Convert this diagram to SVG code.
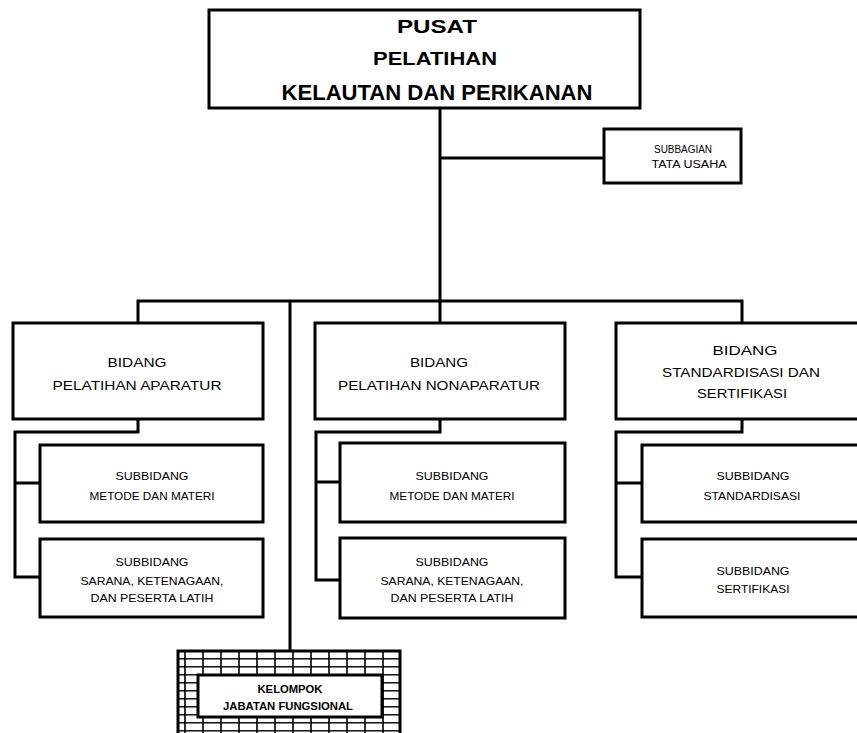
<svg xmlns="http://www.w3.org/2000/svg" width="857" height="733" viewBox="0 0 857 733">
<style>
.box{fill:#fff;stroke:#000;stroke-width:3}
.ln{fill:none;stroke:#000;stroke-width:3}
text{font-family:"Liberation Sans",Arial,sans-serif;fill:#000;text-anchor:middle}
.t1{font-size:19px;font-weight:bold}
.t2{font-size:13.5px}
.t3{font-size:11.5px}
.t4{font-size:10px}
.t5{font-size:10px;font-weight:bold}
</style>
<defs>
<pattern id="grid" x="184" y="650" width="18" height="8" patternUnits="userSpaceOnUse">
<rect width="18" height="8" fill="#fff"/>
<line x1="1" y1="0" x2="1" y2="8" stroke="#000" stroke-width="1.6"/>
<line x1="0" y1="0.8" x2="18" y2="0.8" stroke="#000" stroke-width="1.4"/>
</pattern>
</defs>
<rect width="857" height="733" fill="#fff"/>
<g id="connectors">
<path class="ln" d="M440 108V323"/>
<path class="ln" d="M440 158H604"/>
<path class="ln" d="M138 323V301H742V323"/>
<path class="ln" d="M290 301V650"/>
<path class="ln" d="M138 419V432H15V577H40M15 483H40"/>
<path class="ln" d="M440 419V432H316V580H340M316 482H340"/>
<path class="ln" d="M742 419V432H616V577H642M616 483H642"/>
</g>
<g id="pusat">
<rect class="box" x="209" y="10" width="431" height="98"/>
<text class="t1" x="437" y="33" textLength="80" lengthAdjust="spacingAndGlyphs">PUSAT</text>
<text class="t1" x="435" y="65" textLength="124" lengthAdjust="spacingAndGlyphs">PELATIHAN</text>
<text class="t1" x="437" y="100" style="font-size:22px" textLength="311" lengthAdjust="spacingAndGlyphs">KELAUTAN DAN PERIKANAN</text>
</g>
<g id="subbagian">
<rect class="box" x="604" y="129" width="137" height="54"/>
<text class="t4" x="683" y="153" textLength="58" lengthAdjust="spacingAndGlyphs">SUBBAGIAN</text>
<text class="t4" x="689" y="168" textLength="75" lengthAdjust="spacingAndGlyphs">TATA USAHA</text>
</g>
<g id="bidang-aparatur">
<rect class="box" x="13" y="323" width="250" height="96"/>
<text class="t2" x="137" y="367" textLength="59" lengthAdjust="spacingAndGlyphs">BIDANG</text>
<text class="t2" x="137" y="390" textLength="169" lengthAdjust="spacingAndGlyphs">PELATIHAN APARATUR</text>
</g>
<g id="bidang-nonaparatur">
<rect class="box" x="315" y="323" width="250" height="96"/>
<text class="t2" x="439" y="367" textLength="58" lengthAdjust="spacingAndGlyphs">BIDANG</text>
<text class="t2" x="439" y="390" textLength="202" lengthAdjust="spacingAndGlyphs">PELATIHAN NONAPARATUR</text>
</g>
<g id="bidang-standardisasi">
<rect class="box" x="616" y="323" width="250" height="96"/>
<text class="t2" x="745" y="355" textLength="65" lengthAdjust="spacingAndGlyphs">BIDANG</text>
<text class="t2" x="741" y="377" textLength="158" lengthAdjust="spacingAndGlyphs">STANDARDISASI DAN</text>
<text class="t2" x="742" y="398" textLength="90" lengthAdjust="spacingAndGlyphs">SERTIFIKASI</text>
</g>
<g id="sub-metode-1">
<rect class="box" x="40" y="445" width="223" height="77"/>
<text class="t3" x="152" y="480" textLength="73" lengthAdjust="spacingAndGlyphs">SUBBIDANG</text>
<text class="t3" x="152" y="500" textLength="125" lengthAdjust="spacingAndGlyphs">METODE DAN MATERI</text>
</g>
<g id="sub-sarana-1">
<rect class="box" x="40" y="539" width="223" height="78"/>
<text class="t3" x="152" y="566" textLength="73" lengthAdjust="spacingAndGlyphs">SUBBIDANG</text>
<text class="t3" x="152" y="585" textLength="143" lengthAdjust="spacingAndGlyphs">SARANA, KETENAGAAN,</text>
<text class="t3" x="152" y="602" textLength="123" lengthAdjust="spacingAndGlyphs">DAN PESERTA LATIH</text>
</g>
<g id="sub-metode-2">
<rect class="box" x="340" y="443" width="225" height="79"/>
<text class="t3" x="452" y="480" textLength="73" lengthAdjust="spacingAndGlyphs">SUBBIDANG</text>
<text class="t3" x="452" y="500" textLength="125" lengthAdjust="spacingAndGlyphs">METODE DAN MATERI</text>
</g>
<g id="sub-sarana-2">
<rect class="box" x="340" y="538" width="225" height="80"/>
<text class="t3" x="452" y="566" textLength="73" lengthAdjust="spacingAndGlyphs">SUBBIDANG</text>
<text class="t3" x="452" y="585" textLength="143" lengthAdjust="spacingAndGlyphs">SARANA, KETENAGAAN,</text>
<text class="t3" x="452" y="602" textLength="123" lengthAdjust="spacingAndGlyphs">DAN PESERTA LATIH</text>
</g>
<g id="sub-standardisasi">
<rect class="box" x="642" y="445" width="225" height="77"/>
<text class="t3" x="753" y="480" textLength="73" lengthAdjust="spacingAndGlyphs">SUBBIDANG</text>
<text class="t3" x="752" y="500" textLength="97" lengthAdjust="spacingAndGlyphs">STANDARDISASI</text>
</g>
<g id="sub-sertifikasi">
<rect class="box" x="642" y="539" width="225" height="78"/>
<text class="t3" x="753" y="575" textLength="73" lengthAdjust="spacingAndGlyphs">SUBBIDANG</text>
<text class="t3" x="753" y="593" textLength="73" lengthAdjust="spacingAndGlyphs">SERTIFIKASI</text>
</g>
<g id="kelompok">
<rect x="178" y="651" width="222" height="90" fill="url(#grid)" stroke="#000" stroke-width="3"/>
<rect class="box" x="198" y="675" width="184" height="42"/>
<text class="t5" x="290" y="693" textLength="65" lengthAdjust="spacingAndGlyphs">KELOMPOK</text>
<text class="t5" x="288" y="710" textLength="130" lengthAdjust="spacingAndGlyphs">JABATAN FUNGSIONAL</text>
</g>
</svg>
